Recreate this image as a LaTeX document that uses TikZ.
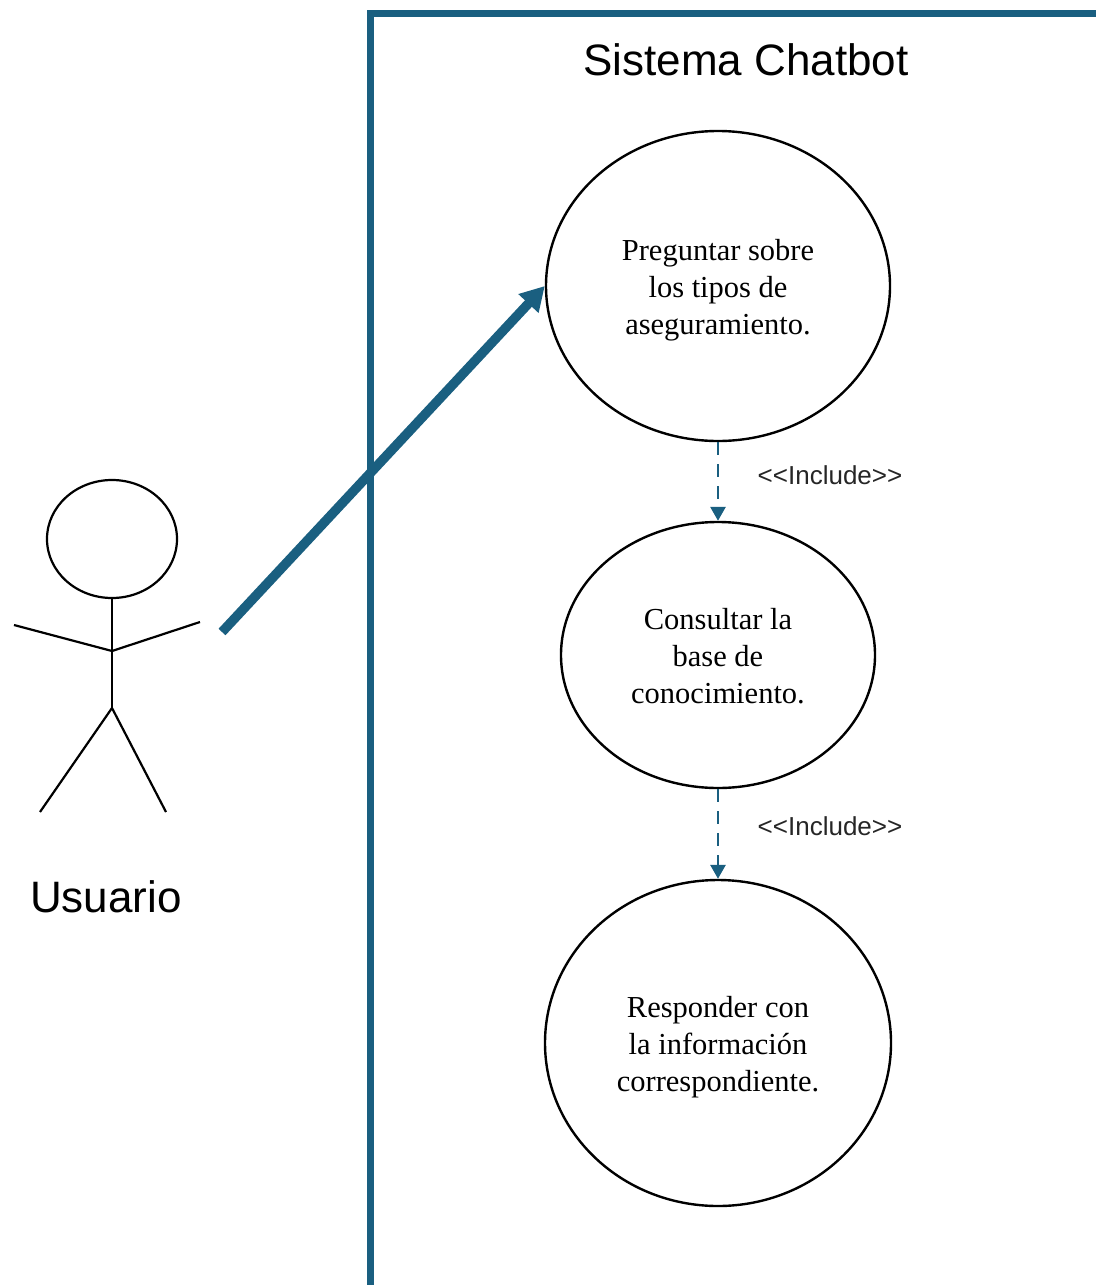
\documentclass[tikz,border=0pt]{standalone}
\usepackage{fontspec}
\setmainfont{Liberation Serif}
\setsansfont{Liberation Sans}
\usetikzlibrary{shapes.geometric,arrows.meta}
\definecolor{sysblue}{RGB}{26,95,128}
\newcommand{\uctext}[1]{\raisebox{-4pt}[\height][\depth]{\setlength{\tabcolsep}{0pt}\begin{tabular}{c}#1\end{tabular}}}
\tikzset{
  usecase/.style={draw=black, line width=2.4pt, ellipse, inner sep=0pt, align=center,
    font=\fontsize{30.5}{37}\selectfont},
  inclarrow/.style={draw=sysblue, line width=2.8pt, dash pattern=on 13pt off 9pt,
    -{Triangle[length=14pt,width=15pt]}},
  incllabel/.style={font=\sffamily\fontsize{26}{30}\selectfont, text=black!85},
  stick/.style={draw=black, line width=2.2pt}
}
\begin{document}
\begin{tikzpicture}[x=1pt,y=-1pt]
\useasboundingbox (0,0) rectangle (1095,1285);
% system boundary
\draw[sysblue, line width=7pt] (1110,13.5) -- (370.5,13.5) -- (370.5,1300);
\node[font=\sffamily\fontsize{44}{50}\selectfont] (title) at (746,60) {Sistema Chatbot};
% use cases
\node[usecase, minimum width=344pt, minimum height=310pt] (uc1) at (718,286) {\uctext{Preguntar sobre\\los tipos de\\aseguramiento.}};
\node[usecase, minimum width=314pt, minimum height=266pt] (uc2) at (718,655) {\uctext{Consultar la\\base de\\conocimiento.}};
\node[usecase, minimum width=346pt, minimum height=326pt] (uc3) at (718,1043) {\uctext{Responder con\\la información\\correspondiente.}};
% actor
\node[stick, ellipse, minimum width=130pt, minimum height=118pt, inner sep=0pt] (head) at (112,539) {};
\coordinate (neck) at (112,651);
\coordinate (hip) at (112,708);
\coordinate (lhand) at (14,625);
\coordinate (rhand) at (200,622);
\coordinate (lfoot) at (40,812);
\coordinate (rfoot) at (166,812);
\draw[stick] (head.south) -- (hip);
\draw[stick] (lhand) -- (neck) -- (rhand);
\draw[stick] (lfoot) -- (hip) -- (rfoot);
\node[font=\sffamily\fontsize{44}{50}\selectfont] (usuario) at (106,897) {Usuario};
% association
\coordinate (actorend) at (222,632);
\draw[sysblue, line width=9.5pt, -{Triangle[length=24pt,width=26pt]}] (actorend) -- (uc1.west);
% includes
\draw[inclarrow] (uc1.south) -- (uc2.north);
\draw[inclarrow] (uc2.south) -- (uc3.north);
\node[incllabel] (inc1) at (830,475) {<{}<Include>{}>};
\node[incllabel] (inc2) at (830,826) {<{}<Include>{}>};
\end{tikzpicture}
\end{document}
